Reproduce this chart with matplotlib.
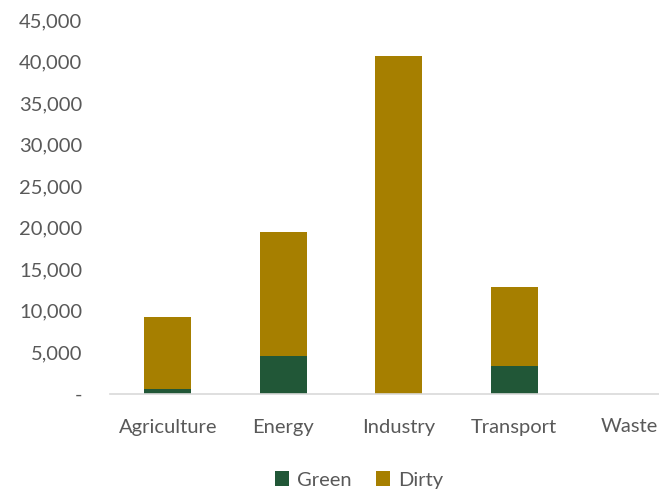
import matplotlib
matplotlib.use("Agg")
from matplotlib import pyplot as plt
from matplotlib.ticker import FuncFormatter
import numpy as np

sectors = ["Agriculture", "Energy", "Industry", "Transport", "Waste"]
green = [500, 4500, 0, 3300, 0]
dirty = [8750, 14900, 40650, 9550, 0]

green_col = "#215737"
dirty_col = "#A67F00"
text_col = "#595959"

plt.rcParams['font.family'] = ['Lato', 'DejaVu Sans']

fig = plt.figure(figsize=(6.59, 4.92), dpi=100)
ax = fig.add_axes([110/659, 1 - 393.5/492, 577.5/659, 373.5/492])

x = np.arange(len(sectors))
ax.bar(x, green, width=0.41, color=green_col, label="Green", zorder=2)
ax.bar(x, dirty, width=0.41, bottom=green, color=dirty_col, label="Dirty", zorder=2)

ax.set_xlim(-0.5, len(sectors) - 0.5)
ax.set_ylim(0, 45000)
ax.set_yticks(np.arange(0, 45001, 5000))
ax.yaxis.set_major_formatter(FuncFormatter(lambda v, p: "-" if v == 0 else f"{v:,.0f}"))
ax.set_xticks(x)
ax.set_xticklabels(sectors)

for s in ["top", "right", "left"]:
    ax.spines[s].set_visible(False)
ax.spines["bottom"].set_color("#d9d9d9")
ax.spines["bottom"].set_linewidth(1.2)
ax.spines["bottom"].set_zorder(3)

ax.tick_params(axis="both", length=0, labelsize=14.5, colors=text_col)
ax.tick_params(axis="y", pad=20)
ax.tick_params(axis="x", pad=18)

fig.legend(loc="center", bbox_to_anchor=(359/659, 1 - 480/492), ncol=2, frameon=False,
           fontsize=14.5, labelcolor=text_col, handlelength=0.7, handleheight=0.7,
           handletextpad=0.4, columnspacing=1.2)

fig.savefig("out.png", dpi=100)
